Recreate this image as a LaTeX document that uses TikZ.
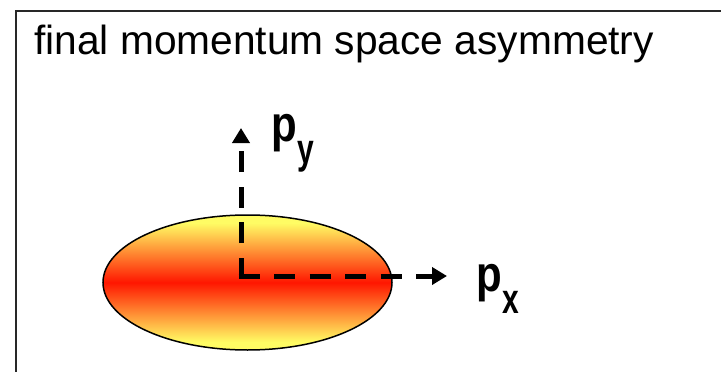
\documentclass[tikz,border=0pt]{standalone}
\usepackage{fontspec}
\setmainfont{Liberation Sans}
\usetikzlibrary{arrows.meta}
\definecolor{ellY}{RGB}{255,252,100}
\definecolor{ellR}{RGB}{255,22,0}
\definecolor{frameC}{RGB}{40,40,40}
\pgfdeclareverticalshading{ellshade}{100bp}{color(0bp)=(ellY); color(25bp)=(ellY); color(28bp)=(ellY); color(50bp)=(ellR); color(72bp)=(ellY); color(75bp)=(ellY); color(100bp)=(ellY)}
\tikzset{
  frameline/.style={draw=frameC, line width=2.2pt},
  blob/.style={draw=black, line width=1.5pt, shading=ellshade},
  axisline/.style={line width=5pt, dash pattern=on 21pt off 14.5pt, -{Triangle[width=17pt,length=15pt]}},
  titletext/.style={font=\fontsize{40.7}{48}\selectfont, anchor=base west, inner sep=0pt},
  axlabel/.style={font=\fontsize{42}{50}\selectfont\bfseries, anchor=base west, inner sep=0pt}
}
\newcommand{\axlab}[1]{\scalebox{1}[1.2]{p}\kern1pt\raisebox{-22pt}{\scalebox{1}[1.4]{\fontsize{30}{30}\selectfont #1}}}
\begin{document}
\begin{tikzpicture}[x=1pt,y=-1pt]
\useasboundingbox (0,0) rectangle (721,372);
\fill[white] (0,0) rectangle (721,372);
\coordinate (fbl) at (16,390);
\coordinate (ftl) at (16,11);
\coordinate (ftr) at (740,11);
\draw[frameline] (fbl) -- (ftl) -- (ftr);
\node[titletext] (title) at (34,54) {final momentum space asymmetry};
\path[blob] (247.5,282.5) ellipse [x radius=144.5, y radius=67.5];
\coordinate (ov) at (241,278.5);
\coordinate (oh) at (238.5,276);
\coordinate (ytip) at (241,128);
\coordinate (xtip) at (447,276);
\draw[axisline] (ov) -- (ytip);
\draw[axisline] (oh) -- (xtip);
\node[axlabel] (py) at (271,141) {\axlab{y}};
\node[axlabel] (px) at (476,291) {\axlab{x}};
\end{tikzpicture}
\end{document}
